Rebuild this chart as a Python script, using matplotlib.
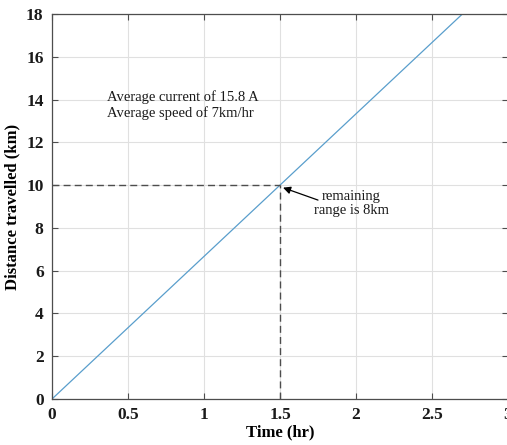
import matplotlib
matplotlib.use("Agg")
import matplotlib.pyplot as plt

plt.rcParams['font.family'] = ['Liberation Serif', 'DejaVu Serif']

# distance covered over time at constant average speed
time_hr = [0, 1.5, 3]
distance_km = [0, 10, 20]

# point where the remaining range is marked
mark_time = 1.5
mark_dist = 10

xticks = [0, 0.5, 1, 1.5, 2, 2.5, 3]
xticklabels = ['0', '0.5', '1', '1.5', '2', '2.5', '3']
yticks = [0, 2, 4, 6, 8, 10, 12, 14, 16, 18]

fig = plt.figure(figsize=(5.07, 4.45), dpi=100)
ax = fig.add_axes([52 / 507, 46 / 445, 456 / 507, 385 / 445])

ax.plot(time_hr, distance_km, color=(0.35, 0.62, 0.80), lw=0.9)

# dashed guides to the marked point
ax.plot([0, mark_time], [mark_dist, mark_dist], ls=(0, (5, 3)), color='0.3', lw=1.0)
ax.plot([mark_time, mark_time], [0, mark_dist], ls=(0, (5, 3)), color='0.3', lw=1.0)

ax.set_xlim(0, 3)
ax.set_ylim(0, 18)
ax.set_xticks(xticks)
ax.set_xticklabels(xticklabels)
ax.set_yticks(yticks)
ax.grid(True, color='0.88', lw=0.8)
ax.set_axisbelow(True)

for s in ax.spines.values():
    s.set_color('0.3')
    s.set_linewidth(0.9)
ax.tick_params(direction='in', length=4, width=0.8, color='0.3',
               top=True, right=True, labelsize=12.5, pad=6)
for lbl in ax.get_xticklabels() + ax.get_yticklabels():
    lbl.set_fontweight('bold')
    lbl.set_color('0.1')

ax.set_xlabel('Time (hr)', fontsize=12, fontweight='bold', labelpad=1)
ax.set_ylabel('Distance travelled (km)', fontsize=12, fontweight='bold', labelpad=4)

ax.text(0.36, 14.45, 'Average current of 15.8 A\nAverage speed of 7km/hr',
        fontsize=10.5, va='top', ha='left', linespacing=1.25, color='0.1')

# arrow pointing at the marked point, label beside it
ax.annotate('', xy=(mark_time + 0.02, mark_dist - 0.12), xytext=(1.75, 9.3),
            arrowprops=dict(arrowstyle='-|>', color='black', lw=0.9,
                            shrinkA=0, shrinkB=0, mutation_scale=11))
ax.text(1.97, 9.15, 'remaining\nrange is 8km', fontsize=10.5, ha='center',
        va='center', color='0.1', linespacing=1.15)

fig.savefig('out.png', dpi=100)
